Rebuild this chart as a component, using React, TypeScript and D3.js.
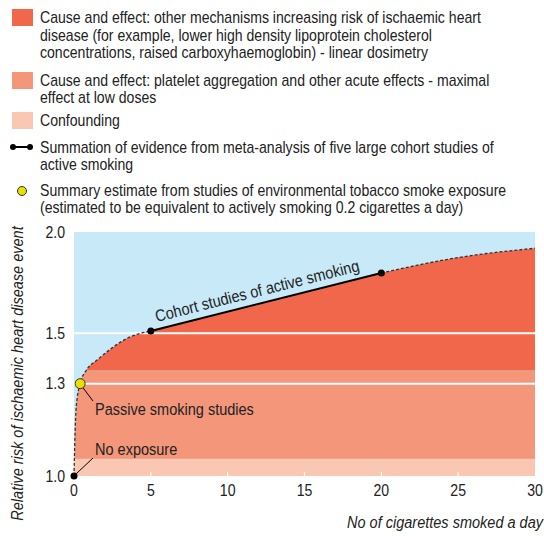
import * as d3 from 'd3';

// legend
const legendLabels = [
  ['Cause and effect: other mechanisms increasing risk of ischaemic heart', 'disease (for example, lower high density lipoprotein cholesterol', 'concentrations, raised carboxyhaemoglobin) - linear dosimetry'],
  ['Cause and effect: platelet aggregation and other acute effects  - maximal', 'effect at low doses'],
  ['Confounding'],
  ['Summation of evidence from meta-analysis of five large cohort studies of', 'active smoking'],
  ['Summary estimate from studies of environmental tobacco smoke exposure', '(estimated to be equivalent to actively smoking 0.2 cigarettes a day)'],
];

// curve (relative risk vs cigarettes a day)
const earlyX = [0, 0.05, 0.15, 0.4, 0.8, 1.5, 2.5, 3.5, 5];
const earlyY = [1.0, 1.1, 1.22, 1.3, 1.35, 1.39, 1.44, 1.48, 1.51];
const cohortX = [5, 20];
const cohortY = [1.51, 1.78];
const lateX = [20, 25, 30];
const lateY = [1.78, 1.86, 1.91];

// bands
const bandLow = [1.0, 1.05, 1.35];
const bandHigh = [1.05, 1.35, 2.0];
const bandColors = ['#f9c7b2', '#f4967a', '#f0674b'];

const gridLines = [1.3, 1.5];
const yTicks = [1.0, 1.3, 1.5, 2.0];
const xTicks = [0, 5, 10, 15, 20, 25, 30];
const passiveX = 0.4;
const passiveY = 1.3;

const FONT = "'Liberation Sans', Arial, sans-serif";
const SX = 0.88; // narrow the glyphs, the original uses a condensed face
const BLUE = '#c7e9f8';

type TProps = { x: number; y: number; size?: number; anchor?: string; italic?: boolean; rotate?: number; dy?: string; children: any };
function T({ x, y, size = 16, anchor = 'start', italic = false, rotate = 0, dy, children }: TProps) {
  return (
    <text transform={`translate(${x},${y}) rotate(${rotate}) scale(${SX},1)`} textAnchor={anchor}
      fontSize={size} fontStyle={italic ? 'italic' : 'normal'} fill="#222" dy={dy}>
      {children}
    </text>
  );
}

export default function App() {
  const x = d3.scaleLinear().domain([0, 30]).range([74, 535]);
  const y = d3.scaleLog().domain([1, 2]).range([476, 232]);

  const pts = (xs: number[], ys: number[]) => xs.map((v, i) => [v, ys[i]] as [number, number]);
  const early = pts(earlyX, earlyY);
  const cohort = pts(cohortX, cohortY);
  const late = pts(lateX, lateY);

  const areaMono = d3.area<[number, number]>().x(d => x(d[0])).y0(y(1)).y1(d => y(d[1])).curve(d3.curveMonotoneX);
  const areaLin = d3.area<[number, number]>().x(d => x(d[0])).y0(y(1)).y1(d => y(d[1]));
  const lineMono = d3.line<[number, number]>().x(d => x(d[0])).y(d => y(d[1])).curve(d3.curveMonotoneX);
  const lineLin = d3.line<[number, number]>().x(d => x(d[0])).y(d => y(d[1]));

  const legendY = [9, 72, 112, 0, 0];
  const textY = [23, 85.5, 125.5, 152.5, 195.5];
  const angle = (Math.atan2(y(1.78) - y(1.51), x(20) - x(5)) * 180) / Math.PI;

  return (
    <div style={{ position: 'absolute', left: 0, top: 0 }}>
      <svg width={544} height={536} style={{ display: 'block', fontFamily: FONT }}>
        <rect width={544} height={536} fill="#fff" />
        {/* legend */}
        {legendLabels.map((lines, i) => (
          <g key={i}>
            {i < 3 && <rect x={12} y={legendY[i]} width={21} height={17} fill={bandColors[2 - i]} />}
            {i === 3 && (
              <g>
                <line x1={13} x2={30} y1={147} y2={147} stroke="#000" strokeWidth={2} />
                <circle cx={13} cy={147} r={3} fill="#000" />
                <circle cx={30} cy={147} r={3} fill="#000" />
              </g>
            )}
            {i === 4 && <circle cx={22} cy={191} r={4.5} fill="#e8e000" stroke="#333" strokeWidth={1} />}
            {lines.map((l, j) => <T key={j} x={40} y={textY[i] + j * 17.5} size={16}>{l}</T>)}
          </g>
        ))}

        {/* plot */}
        <defs>
          <clipPath id="under">
            <path d={areaMono(early)!} />
            <path d={areaLin(cohort)!} />
            <path d={areaMono(late)!} />
          </clipPath>
        </defs>
        <rect x={x(0)} y={y(2)} width={x(30) - x(0)} height={y(1) - y(2)} fill={BLUE} />
        <g clipPath="url(#under)">
          {bandLow.map((lo, i) => (
            <rect key={i} x={x(0)} y={y(bandHigh[i])} width={x(30) - x(0)} height={y(lo) - y(bandHigh[i])} fill={bandColors[i]} />
          ))}
        </g>
        {gridLines.map(g => (
          <line key={g} x1={x(0)} x2={x(30)} y1={y(g)} y2={y(g)} stroke="#fff" strokeWidth={2} />
        ))}
        {xTicks.slice(1, -1).map(t => (
          <line key={t} x1={x(t)} x2={x(t)} y1={y(1)} y2={y(1) - 4} stroke="#fff" strokeWidth={1.2} />
        ))}

        <path d={lineMono(early)!} fill="none" stroke="#333" strokeWidth={1.3} strokeDasharray="3,2" />
        <path d={lineMono(late)!} fill="none" stroke="#333" strokeWidth={1.3} strokeDasharray="3,2" />
        <path d={lineLin(cohort)!} fill="none" stroke="#000" strokeWidth={2} />
        {[[0, 1.0], ...cohort].map((d, i) => (
          <circle key={i} cx={x(d[0])} cy={y(d[1])} r={3.5} fill="#000" />
        ))}

        {/* annotations */}
        <line x1={x(passiveX) + 2} y1={y(passiveY) + 3} x2={93} y2={401} stroke="#000" strokeWidth={1} />
        <circle cx={x(passiveX)} cy={y(passiveY)} r={5} fill="#e8e000" stroke="#333" strokeWidth={1} />
        <T x={95} y={415} size={16.5}>Passive smoking studies</T>
        <line x1={x(0) + 2} y1={y(1) - 2} x2={93} y2={458} stroke="#000" strokeWidth={1} />
        <T x={95} y={455} size={16.5}>No exposure</T>
        <T x={x(5) + 6} y={y(1.51) - 9} size={16.5} rotate={angle}>Cohort studies of active smoking</T>

        {/* axes */}
        {yTicks.map(t => (
          <T key={t} x={65} y={y(t)} dy="0.36em" anchor="end" size={16}>{t.toFixed(1)}</T>
        ))}
        {xTicks.map(t => (
          <T key={t} x={x(t)} y={496} anchor="middle" size={16}>{t}</T>
        ))}
        <T x={23} y={373.5} rotate={-90} anchor="middle" size={16.5} italic>
          Relative risk of ischaemic heart disease event
        </T>
        <T x={543} y={528} anchor="end" size={16.5} italic>No of cigarettes smoked a day</T>
      </svg>
    </div>
  );
}
